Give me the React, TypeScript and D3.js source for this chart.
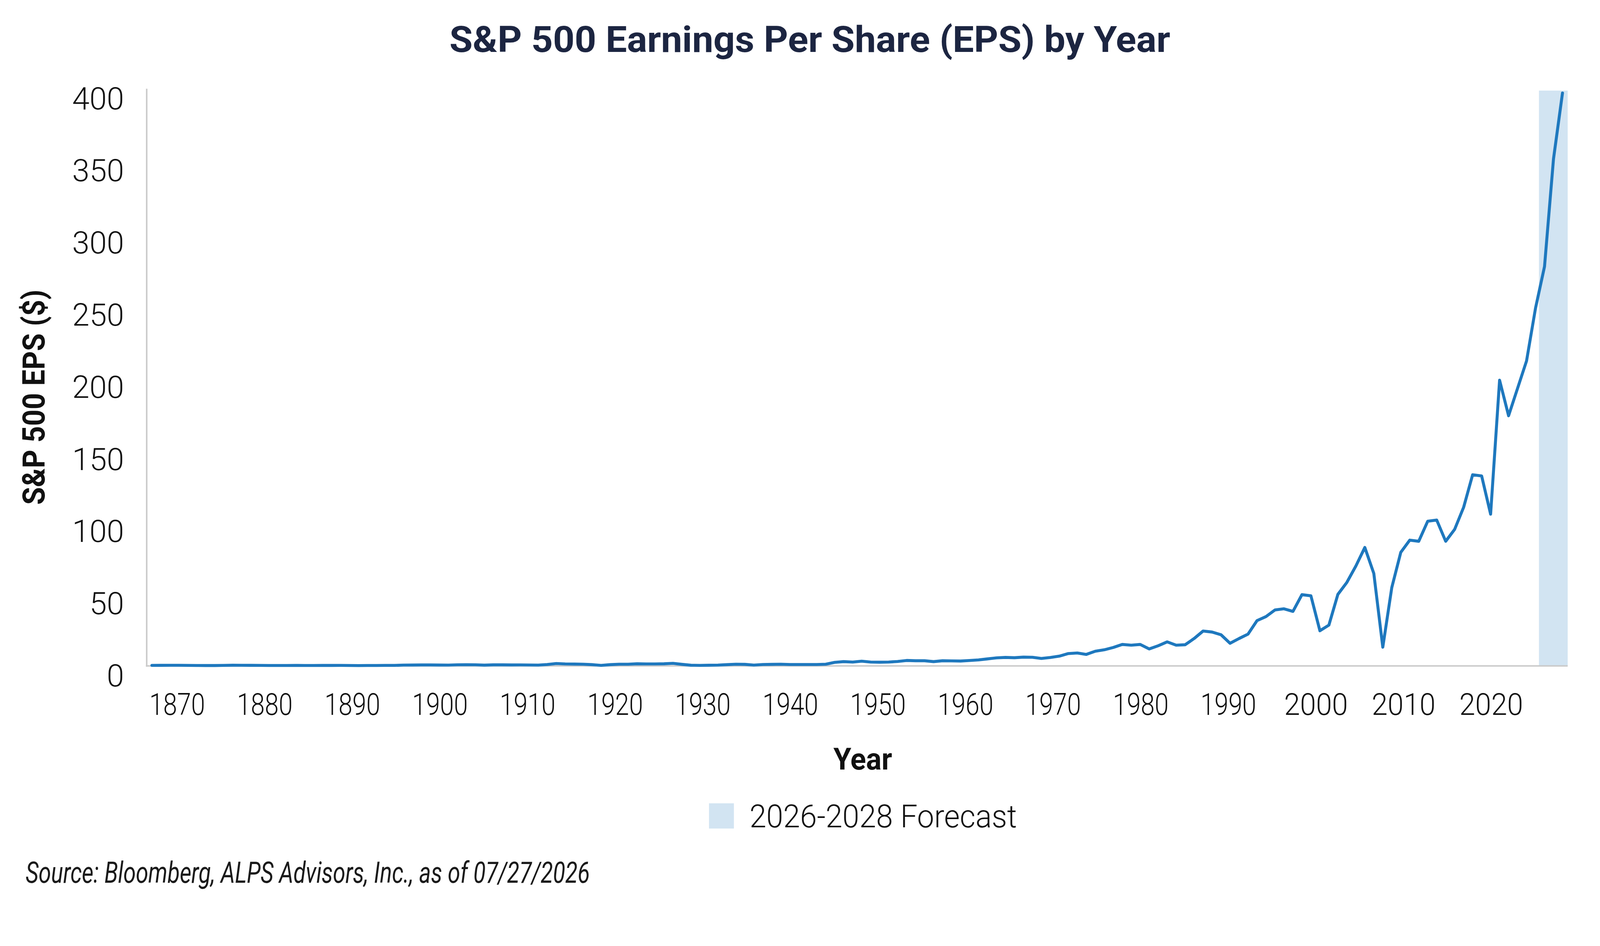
import { useEffect, useRef } from "react";
import * as d3 from "d3";

// S&P 500 EPS, one value per year starting at firstYear
const firstYear = 1871;
const eps: number[] = [
  0.40, 0.43, 0.46, 0.46, 0.40, 0.33, 0.30, 0.30, 0.38, 0.49, // 1871-1880
  0.46, 0.44, 0.41, 0.34, 0.32, 0.32, 0.37, 0.31, 0.33, 0.36, // 1881-1890
  0.36, 0.39, 0.34, 0.27, 0.32, 0.33, 0.38, 0.39, 0.59, 0.63, // 1891-1900
  0.70, 0.69, 0.63, 0.59, 0.79, 0.84, 0.80, 0.56, 0.77, 0.76, // 1901-1910
  0.71, 0.75, 0.68, 0.60, 1.0, 1.7, 1.4, 1.3, 1.2, 0.9,       // 1911-1920
  0.4, 0.9, 1.2, 1.2, 1.5, 1.4, 1.4, 1.5, 1.8, 1.1,           // 1921-1930
  0.5, 0.4, 0.5, 0.6, 0.9, 1.2, 1.1, 0.6, 1.0, 1.1,           // 1931-1940
  1.2, 1.0, 1.0, 1.0, 1.0, 1.2, 2.5, 3.0, 2.7, 3.3,           // 1941-1950
  2.7, 2.6, 2.7, 3.1, 3.8, 3.6, 3.6, 3.0, 3.6, 3.5,           // 1951-1960
  3.4, 3.8, 4.2, 4.9, 5.6, 5.9, 5.7, 6.1, 6.0, 5.2,           // 1961-1970
  5.9, 6.8, 8.6, 9.0, 8.0, 10.2, 11.2, 12.8, 14.9, 14.4,      // 1971-1980
  14.9, 11.8, 14.0, 16.7, 14.4, 14.7, 19.0, 24.2, 23.5, 21.6, // 1981-1990
  15.7, 19.0, 22.1, 31.4, 34.2, 38.8, 39.6, 37.8, 49.4, 48.6, // 1991-2000
  24.4, 28.3, 49.6, 57.9, 69.2, 82.1, 64.1, 13.0, 54.3, 78.7, // 2001-2010
  87.2, 86.4, 100.3, 101.1, 86.4, 94.7, 110.0, 132.5, 131.7, 105.2, // 2011-2020
  198.0, 173.4, 192.4, 211.4, 248.0, 276.8, 351.4, 397.0,     // 2021-2028
];

const yTicks = [0, 50, 100, 150, 200, 250, 300, 350, 400];
const xTickYears = [1870, 1880, 1890, 1900, 1910, 1920, 1930, 1940, 1950, 1960, 1970, 1980, 1990, 2000, 2010, 2020];
const forecastYears = [2026, 2028];

const title = "S&P 500 Earnings Per Share (EPS) by Year";
const yTitle = "S&P 500 EPS ($)";
const xTitle = "Year";
const legendLabel = "2026-2028 Forecast";
const source = "Source: Bloomberg, ALPS Advisors, Inc., as of 07/27/2026";

interface Point {
  year: number;
  value: number;
}

const W = 4308;
const H = 2423;
const FONT = "Roboto, 'Noto Sans', sans-serif";

const App = () => {
  const ref = useRef<SVGSVGElement>(null);

  useEffect(() => {
    if (!ref.current) return;
    const svg = d3.select(ref.current);
    svg.selectAll("*").remove();

    const data: Point[] = eps.map((v, i) => ({ year: firstYear + i, value: v }));

    const plot = { left: 395, right: 4221, top: 239, bottom: 1794 };

    const x = d3.scaleLinear()
      .domain([firstYear, firstYear + eps.length - 1])
      .range([409, 4207]);

    // tick labels sit on their own spacing in the original chart
    const xLabel = d3.scaleLinear()
      .domain([1870, 2020])
      .range([477, 4015]);

    const y = d3.scaleLinear()
      .domain([0, 400])
      .range([plot.bottom, plot.top]);

    const step = x(firstYear + 1) - x(firstYear);
    const bandLeft = x(forecastYears[0]) - 0.62 * step;

    // forecast band
    svg.append("rect")
      .attr("x", bandLeft)
      .attr("y", y(400) + 5)
      .attr("width", plot.right - bandLeft)
      .attr("height", plot.bottom - y(400) - 5)
      .attr("fill", "#d2e4f2");

    // axes
    svg.append("line")
      .attr("x1", plot.left).attr("x2", plot.left)
      .attr("y1", plot.top).attr("y2", plot.bottom + 2)
      .attr("stroke", "#c9c9c9").attr("stroke-width", 4);
    svg.append("line")
      .attr("x1", plot.left - 2).attr("x2", plot.right)
      .attr("y1", plot.bottom).attr("y2", plot.bottom)
      .attr("stroke", "#c9c9c9").attr("stroke-width", 4);

    const line = d3.line<Point>()
      .x(d => x(d.year))
      .y(d => y(d.value));

    svg.append("path")
      .datum(data)
      .attr("fill", "none")
      .attr("stroke", "#1e78be")
      .attr("stroke-width", 8)
      .attr("stroke-linejoin", "round")
      .attr("stroke-linecap", "round")
      .attr("d", line);

    // y tick labels
    svg.append("g")
      .selectAll("text")
      .data(yTicks)
      .join("text")
      .attr("x", 334)
      .attr("y", d => y(d) + 55)
      .attr("text-anchor", "end")
      .attr("font-family", FONT)
      .attr("font-weight", 300)
      .attr("font-size", 84)
      .attr("fill", "#111")
      .text(d => d);

    // x tick labels
    svg.append("g")
      .selectAll("text")
      .data(xTickYears)
      .join("text")
      .attr("x", d => xLabel(d))
      .attr("y", 1926)
      .attr("text-anchor", "middle")
      .attr("font-family", FONT)
      .attr("font-weight", 300)
      .attr("font-size", 82)
      .attr("textLength", d => (String(d).startsWith("1") ? 150 : 172))
      .attr("lengthAdjust", "spacingAndGlyphs")
      .attr("fill", "#111")
      .text(d => d);

    // title
    svg.append("text")
      .attr("x", 1210)
      .attr("y", 140)
      .attr("font-family", FONT)
      .attr("font-weight", 700)
      .attr("font-size", 98)
      .attr("textLength", 1941)
      .attr("lengthAdjust", "spacingAndGlyphs")
      .attr("fill", "#1c2541")
      .text(title);

    // axis titles
    svg.append("text")
      .attr("transform", "translate(120,1070) rotate(-90)")
      .attr("text-anchor", "middle")
      .attr("font-family", FONT)
      .attr("font-weight", 700)
      .attr("font-size", 84)
      .attr("textLength", 580)
      .attr("lengthAdjust", "spacingAndGlyphs")
      .attr("fill", "#111")
      .text(yTitle);

    svg.append("text")
      .attr("x", 2323)
      .attr("y", 2073)
      .attr("text-anchor", "middle")
      .attr("font-family", FONT)
      .attr("font-weight", 700)
      .attr("font-size", 82)
      .attr("textLength", 158)
      .attr("lengthAdjust", "spacingAndGlyphs")
      .attr("fill", "#111")
      .text(xTitle);

    // legend
    svg.append("rect")
      .attr("x", 1909).attr("y", 2164)
      .attr("width", 67).attr("height", 68)
      .attr("fill", "#d2e4f2");
    svg.append("text")
      .attr("x", 2018)
      .attr("y", 2229)
      .attr("font-family", FONT)
      .attr("font-weight", 300)
      .attr("font-size", 86)
      .attr("textLength", 720)
      .attr("lengthAdjust", "spacingAndGlyphs")
      .attr("fill", "#111")
      .text(legendLabel);

    // source note
    svg.append("text")
      .attr("x", 69)
      .attr("y", 2378)
      .attr("font-family", FONT)
      .attr("font-style", "italic")
      .attr("font-weight", 400)
      .attr("font-size", 80)
      .attr("textLength", 1519)
      .attr("lengthAdjust", "spacingAndGlyphs")
      .attr("fill", "#1a1a1a")
      .text(source);
  }, []);

  return (
    <svg
      ref={ref}
      viewBox={`0 0 ${W} ${H}`}
      preserveAspectRatio="xMinYMin meet"
      style={{ position: "fixed", left: 0, top: 0, width: "100vw", height: "100vh", display: "block", background: "#fff" }}
    />
  );
};

export default App;
